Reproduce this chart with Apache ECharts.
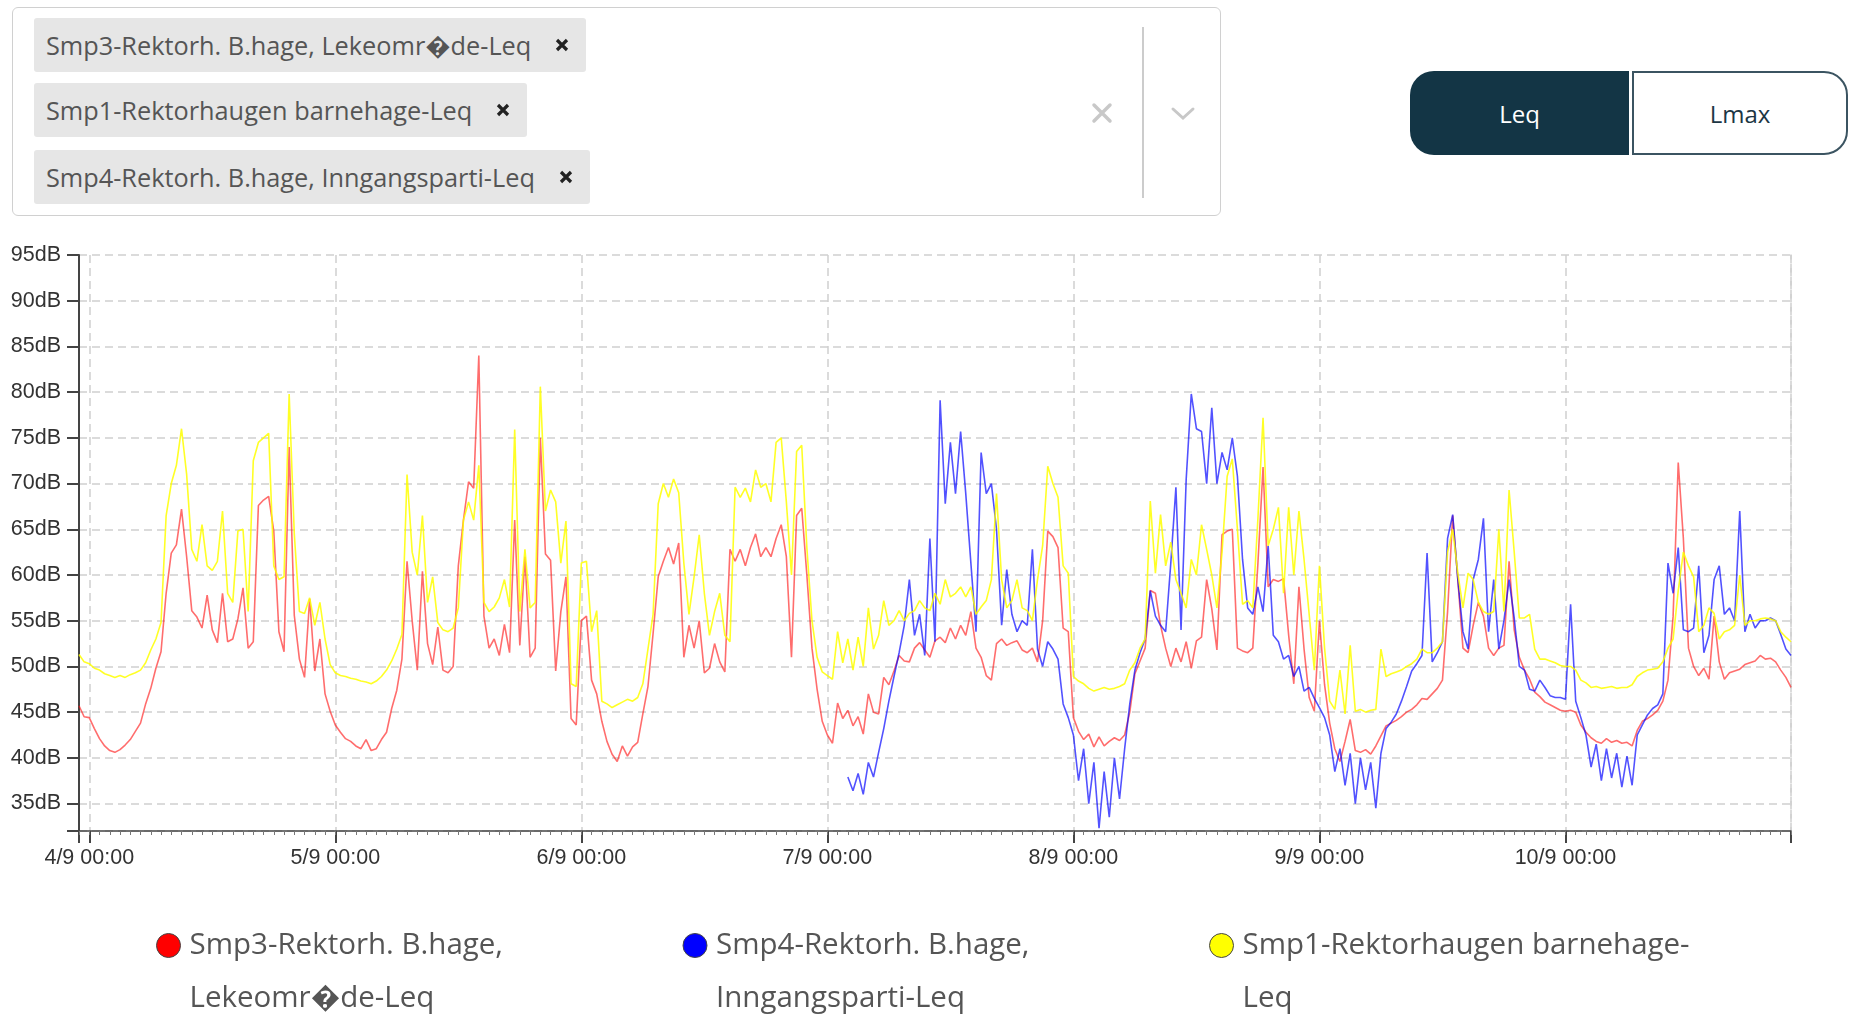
<!DOCTYPE html>
<html>
<head>
<meta charset="utf-8">
<title>Leq</title>
<script src="https://cdn.jsdelivr.net/npm/echarts@6.0.0/dist/echarts.min.js"></script>
<style>
  html, body { margin: 0; padding: 0; background: #fff; }
  #page { position: relative; width: 1850px; height: 1015px; overflow: hidden; font-family: 'Open Sans', sans-serif; }
  #chart { position: absolute; left: 0; top: 0; width: 1850px; height: 1015px; }
  .select { position: absolute; left: 12px; top: 7px; width: 1209px; height: 209px; border: 1px solid #d0d0d0; border-radius: 6px; box-sizing: border-box; background: #fff; z-index: 2; }
  .tag { position: absolute; left: 21px; height: 54px; background: #e6e6e6; border-radius: 3px; display: flex; align-items: center; padding: 0 17px 0 12px; font-size: 25.3px; color: #555; white-space: nowrap; box-sizing: border-box; }
  .tag svg { margin-left: 24px; }
  .sep { position: absolute; left: 1129px; top: 19px; width: 2px; height: 171px; background: #ccc; }
  .clear { position: absolute; left: 1078px; top: 94px; }
  .chev { position: absolute; left: 1157px; top: 98px; }
  .btn { position: absolute; top: 71px; height: 84px; display: flex; align-items: center; justify-content: center; font-size: 24px; box-sizing: border-box; z-index: 2; }
  .btn.on { left: 1410px; width: 219px; background: #133545; color: #fff; border-radius: 24px 0 0 24px; }
  .btn.off { left: 1632px; width: 216px; background: #fff; color: #1c3644; border: 2px solid #3b5461; border-radius: 0 24px 24px 0; }
</style>
</head>
<body>
<div id="page">
  <div id="chart"></div>
  <div class="select" id="select">
    <div class="sep"></div>
    <svg class="clear" width="22" height="22" viewBox="0 0 22 22"><path d="M3 3 L19 19 M19 3 L3 19" stroke="#c8c8c8" stroke-width="3.5" stroke-linecap="round"/></svg>
    <svg class="chev" width="26" height="16" viewBox="0 0 26 16"><path d="M3 3 L13 12 L23 3" stroke="#c8c8c8" stroke-width="3" fill="none" stroke-linecap="round"/></svg>
  </div>
  <div class="btn on">Leq</div>
  <div class="btn off">Lmax</div>
</div>
<script>
// series names and legend text (legend wraps on two lines)
const seriesNames = [
  'Smp3-Rektorh. B.hage, Lekeomr\uFFFDde-Leq',
  'Smp4-Rektorh. B.hage, Inngangsparti-Leq',
  'Smp1-Rektorhaugen barnehage-Leq'
];
const legendLines = [
  'Smp3-Rektorh. B.hage,\nLekeomr\uFFFDde-Leq',
  'Smp4-Rektorh. B.hage,\nInngangsparti-Leq',
  'Smp1-Rektorhaugen barnehage-\nLeq'
];
// order of the tags in the selector
const tagNames = [seriesNames[0], seriesNames[2], seriesNames[1]];
const tagTops = [10, 75, 142];

const seriesColors = ['#ff0000', '#0000ff', '#ffff00'];
const lineColors = ['rgba(255,20,20,0.62)', 'rgba(0,0,255,0.68)', 'rgba(255,255,0,0.85)'];

const axisStart = '2023-09-03 23:00';
const axisEnd = '2023-09-10 22:00';
const dayTicks = ['2023-09-04 00:00', '2023-09-05 00:00', '2023-09-06 00:00', '2023-09-07 00:00',
  '2023-09-08 00:00', '2023-09-09 00:00', '2023-09-10 00:00'];
const yMin = 32;
const yMax = 95;

// half-hour Leq values (dB)
const stepMinutes = 30;

const smp3Start = '2023-09-03 23:00';
const smp3Leq = [
  45.7, 44.5,
  // 4/9
  44.4, 43.2, 42.1, 41.3, 40.8, 40.6, 40.9, 41.4, 42.0, 42.9, 43.8, 45.9, 47.6, 49.8, 51.6, 58.0,
  62.4, 63.3, 67.2, 62.0, 56.1, 55.4, 54.2, 57.8, 54.0, 52.6, 58.0, 52.7, 53.0, 55.2, 58.6, 52.0,
  52.7, 67.6, 68.2, 68.6, 64.8, 53.8, 51.6, 74.0, 55.6, 50.8, 48.8, 57.4, 49.5, 53.0, 47.0, 45.1,
  // 5/9
  43.6, 42.8, 42.1, 41.8, 41.3, 41.0, 42.0, 40.8, 41.0, 42.0, 42.8, 45.4, 47.4, 50.8, 61.5, 55.0,
  49.6, 60.4, 52.5, 50.2, 54.3, 49.6, 49.3, 50.0, 61.0, 66.0, 70.2, 69.5, 84.0, 55.5, 52.0, 53.0,
  51.2, 54.6, 51.5, 66.0, 52.3, 62.0, 51.0, 52.0, 75.0, 62.3, 61.6, 49.5, 56.0, 59.8, 44.3, 43.6,
  // 6/9
  55.0, 55.5, 48.5, 47.0, 44.0, 41.8, 40.4, 39.6, 41.3, 40.2, 41.2, 41.7, 44.8, 47.8, 53.6, 59.8,
  61.5, 63.0, 61.2, 63.5, 51.0, 54.5, 52.0, 55.0, 49.3, 49.8, 52.5, 50.5, 49.4, 62.8, 61.5, 62.8,
  61.0, 63.0, 64.5, 62.0, 63.0, 62.0, 64.0, 65.5, 62.0, 51.0, 66.5, 67.3, 60.0, 52.0, 47.5, 44.0,
  // 7/9
  42.5, 41.6, 46.0, 44.3, 45.2, 43.5, 44.5, 42.6, 47.0, 45.0, 44.8, 48.8, 48.0, 49.5, 51.2, 50.6,
  50.5, 52.0, 52.6, 51.8, 51.0, 52.8, 53.2, 52.6, 54.2, 53.0, 54.5, 53.4, 56.0, 52.0, 51.0, 49.0,
  48.5, 52.5, 53.0, 52.3, 52.6, 52.8, 51.8, 51.5, 52.0, 50.5, 55.0, 64.8, 64.2, 63.0, 54.2, 53.8,
  // 8/9
  44.4, 42.9, 42.0, 42.6, 41.2, 42.3, 41.3, 41.8, 42.2, 41.9, 42.5, 45.0, 49.2, 50.6, 52.0, 58.3,
  58.0, 54.5, 52.0, 50.0, 52.0, 50.5, 52.7, 49.8, 52.8, 53.2, 59.5, 56.3, 51.8, 64.4, 64.8, 65.0,
  52.0, 51.7, 51.5, 52.0, 61.3, 71.8, 58.7, 59.5, 59.3, 59.6, 53.4, 48.1, 58.7, 51.9, 46.6, 45.1,
  // 9/9
  55.0, 48.0, 43.8, 41.0, 39.6, 41.8, 44.2, 40.8, 40.6, 40.9, 40.4, 41.3, 42.4, 43.5, 43.8, 44.1,
  44.5, 45.0, 45.3, 45.8, 46.5, 46.4, 47.0, 47.6, 48.5, 56.0, 66.5, 59.5, 52.0, 51.5, 54.5, 57.0,
  55.5, 52.0, 51.2, 52.0, 52.3, 61.5, 54.0, 51.0, 49.6, 48.6, 47.2, 46.7, 46.1, 45.8, 45.5, 45.2,
  // 10/9
  45.1, 45.2, 45.0, 43.6, 42.8, 42.2, 41.8, 41.6, 42.1, 41.7, 41.9, 41.6, 41.7, 41.3, 43.0, 44.0,
  44.3, 44.7, 45.2, 46.2, 48.5, 55.5, 72.3, 64.0, 52.0, 50.0, 49.0, 49.8, 48.6, 55.5, 50.5, 48.6,
  49.3, 49.5, 49.7, 50.2, 50.4, 50.6, 51.2, 50.8, 50.9, 50.5, 49.6, 48.8, 47.7
];

const smp4Start = '2023-09-07 02:00';
const smp4Leq = [
  // 7/9 from 02:00
  37.9, 36.4, 38.3, 36.0, 39.5, 37.9, 40.6, 43.2, 46.2, 48.9, 51.5, 54.5, 59.5, 53.4, 55.7, 51.2,
  64.0, 52.7, 79.1, 67.8, 74.5, 68.9, 75.7, 68.9, 61.3, 53.8, 73.4, 68.9, 70.0, 65.0, 54.5, 60.6,
  55.7, 53.8, 55.0, 54.5, 62.8, 51.9, 50.0, 52.7, 51.9, 50.8, 45.9, 44.4,
  // 8/9
  42.5, 37.5, 41.0, 35.0, 39.5, 32.3, 38.5, 33.5, 40.0, 35.5, 41.0, 45.9, 49.6, 51.5, 53.0, 58.3,
  55.5, 54.5, 53.8, 61.3, 69.6, 54.0, 70.4, 79.8, 76.0, 75.7, 70.0, 78.3, 70.0, 73.4, 71.5, 75.0,
  70.8, 61.7, 56.4, 55.7, 58.7, 56.0, 63.2, 53.4, 52.7, 50.8, 51.2, 48.9, 50.0, 47.3, 47.7, 46.5,
  // 9/9
  45.5, 44.4, 42.5, 38.5, 41.0, 37.0, 40.5, 35.0, 40.0, 36.5, 39.5, 34.5, 40.5, 43.2, 43.9, 44.8,
  46.2, 47.8, 49.5, 50.3, 51.2, 62.4, 50.5, 51.5, 52.7, 64.0, 66.6, 59.5, 53.8, 51.9, 59.5, 61.7,
  66.2, 53.8, 59.5, 51.9, 55.0, 59.5, 55.3, 50.0, 49.6, 47.5, 47.3, 48.5, 47.7, 46.8, 46.6, 46.6,
  // 10/9
  46.4, 56.8, 46.2, 44.4, 42.5, 39.0, 41.5, 37.5, 41.0, 37.8, 40.5, 36.8, 40.2, 37.0, 42.5, 43.6,
  44.7, 45.4, 45.8, 47.0, 61.3, 58.0, 63.0, 54.0, 53.8, 54.2, 61.0, 51.5, 53.4, 59.5, 61.0, 55.7,
  56.4, 55.0, 67.0, 53.8, 55.7, 54.2, 55.0, 55.0, 55.3, 55.0, 53.5, 51.9, 51.2
];

const smp1Start = '2023-09-03 23:00';
const smp1Leq = [
  51.3, 50.5,
  // 4/9
  50.3, 49.8, 49.6, 49.2, 49.0, 48.8, 49.0, 48.8, 49.1, 49.3, 49.6, 50.4, 51.8, 53.0, 54.8, 66.5,
  70.0, 72.0, 76.0, 71.0, 62.8, 61.5, 65.5, 61.0, 60.5, 61.5, 67.0, 58.0, 57.0, 64.8, 65.0, 56.0,
  72.5, 74.5, 75.0, 75.5, 61.0, 59.5, 59.8, 79.8, 64.5, 56.0, 55.8, 57.5, 54.5, 57.0, 53.0, 50.2,
  // 5/9
  49.3, 49.0, 48.9, 48.7, 48.6, 48.4, 48.3, 48.1, 48.4, 48.9, 49.6, 50.6, 51.9, 53.5, 71.0, 62.5,
  60.0, 66.5, 57.0, 59.8, 54.8, 54.0, 53.8, 54.2, 56.4, 66.0, 68.0, 66.0, 72.0, 57.0, 56.0, 56.5,
  57.5, 59.5, 56.5, 75.9, 56.0, 62.8, 56.4, 57.0, 80.6, 67.0, 69.3, 68.0, 61.3, 65.9, 48.1, 47.8,
  // 6/9
  61.3, 61.5, 53.8, 56.1, 46.2, 45.9, 45.5, 45.8, 46.1, 46.4, 46.2, 46.6, 48.1, 51.9, 55.7, 67.8,
  70.0, 68.5, 70.5, 69.0, 61.3, 55.7, 59.8, 64.4, 58.0, 53.4, 56.0, 58.0, 53.4, 52.7, 69.6, 68.5,
  69.5, 68.0, 71.5, 69.6, 70.0, 68.0, 74.5, 75.0, 68.0, 60.0, 73.5, 74.2, 63.0, 55.0, 51.0, 49.4,
  // 7/9
  49.0, 48.6, 53.8, 50.4, 53.0, 49.6, 53.2, 50.0, 56.4, 51.9, 53.4, 57.2, 54.5, 55.0, 56.1, 55.0,
  55.8, 56.1, 57.2, 56.4, 56.1, 58.0, 56.8, 59.5, 57.6, 58.0, 58.7, 57.6, 58.7, 55.7, 56.5, 57.2,
  59.5, 68.9, 59.5, 56.4, 57.2, 59.5, 56.4, 56.1, 55.0, 59.5, 63.2, 71.9, 70.0, 68.5, 61.0, 60.2,
  // 8/9
  48.9, 48.4, 48.1, 47.6, 47.3, 47.5, 47.7, 47.5, 47.6, 47.8, 48.1, 49.6, 50.4, 52.0, 53.0, 68.1,
  60.2, 66.6, 61.0, 63.6, 59.5, 58.0, 56.4, 61.7, 60.0, 65.5, 62.8, 60.0, 56.4, 62.5, 70.8, 72.7,
  65.0, 56.8, 57.2, 56.4, 66.2, 77.2, 63.2, 65.0, 67.4, 58.0, 67.4, 60.0, 67.0, 61.7, 55.7, 49.6,
  // 9/9
  61.0, 52.0, 46.2, 45.3, 49.6, 44.8, 52.3, 45.1, 45.3, 45.0, 45.2, 45.3, 51.9, 48.9, 49.2, 49.4,
  49.6, 50.0, 50.3, 50.8, 51.9, 51.5, 51.5, 52.0, 52.7, 62.5, 65.0, 60.2, 56.4, 60.2, 59.5, 57.0,
  56.0, 55.7, 56.0, 65.0, 56.0, 69.3, 62.5, 55.3, 55.3, 55.7, 51.9, 50.8, 50.8, 50.6, 50.4, 50.1,
  // 10/9
  50.0, 50.0, 49.6, 48.5, 48.2, 47.7, 47.8, 47.6, 47.7, 47.8, 47.6, 47.7, 47.7, 48.0, 48.9, 49.3,
  49.6, 49.7, 49.8, 50.5, 52.0, 53.0, 58.3, 62.5, 61.0, 59.8, 53.8, 54.5, 56.4, 55.8, 53.0, 53.8,
  54.0, 54.5, 60.0, 54.5, 55.0, 55.0, 55.2, 55.3, 55.2, 55.0, 53.8, 53.2, 52.7
];

const toMs = (s) => new Date(s.replace(' ', 'T') + ':00').getTime();
const pad = (n) => (n < 10 ? '0' + n : '' + n);

const buildSeries = (start, values) => {
  const t0 = toMs(start);
  return values.map((v, i) => [t0 + i * stepMinutes * 60000, v]);
};

// selector tags
const selectEl = document.getElementById('select');
tagNames.forEach((name, i) => {
  const tag = document.createElement('div');
  tag.className = 'tag';
  tag.style.top = tagTops[i] + 'px';
  tag.textContent = name;
  tag.insertAdjacentHTML('beforeend',
    '<svg width="14" height="14" viewBox="0 0 14 14"><path d="M2 2 L12 12 M12 2 L2 12" stroke="#222" stroke-width="3.2"/></svg>');
  selectEl.appendChild(tag);
});

const chart = echarts.init(document.getElementById('chart'));

const startMs = toMs(axisStart);
const endMs = toMs(axisEnd);
const dayMs = dayTicks.map(toMs);
const axisColor = '#444';
const textColor = '#333';
const gridLine = { show: true, lineStyle: { color: '#cfcfcf', width: 1.5, type: [8, 5] } };

const series = [smp3Leq, smp4Leq, smp1Leq].map((vals, i) => ({
  name: seriesNames[i],
  type: 'line',
  data: buildSeries([smp3Start, smp4Start, smp1Start][i], vals),
  symbol: 'none',
  showSymbol: false,
  itemStyle: { color: seriesColors[i] },
  lineStyle: { width: 1.6, color: lineColors[i] },
  emphasis: { disabled: true },
  animation: false
}));

const option = {
  animation: false,
  grid: { left: 79, right: 59, top: 255, bottom: 184 },
  legend: {
    data: seriesNames,
    left: 151,
    top: 861,
    icon: 'circle',
    itemWidth: 32,
    itemHeight: 24,
    itemGap: 23,
    itemStyle: { borderColor: '#444', borderWidth: 1 },
    // leading empty line keeps the first text line level with the dot
    formatter: (name) => '\n' + legendLines[seriesNames.indexOf(name)],
    textStyle: {
      fontFamily: 'Open Sans',
      fontSize: 29.5,
      lineHeight: 53,
      color: '#555',
      width: 470
    }
  },
  xAxis: [
    {
      // time in ms on a value axis, ticks at midnight plus both ends
      type: 'value',
      position: 'bottom',
      min: startMs,
      max: endMs,
      axisLine: { onZero: false, lineStyle: { color: axisColor, width: 1.5 } },
      axisTick: { length: 12, lineStyle: { color: axisColor, width: 2 }, customValues: [startMs].concat(dayMs, [endMs]) },
      axisLabel: {
        customValues: dayMs,
        fontFamily: 'Liberation Sans',
        fontSize: 21.5,
        color: textColor,
        margin: 16,
        formatter: (v) => {
          const d = new Date(v);
          return d.getDate() + '/' + (d.getMonth() + 1) + ' ' + pad(d.getHours()) + ':' + pad(d.getMinutes());
        }
      },
      splitLine: gridLine
    },
    {
      // hourly small ticks along the time axis
      type: 'value',
      position: 'bottom',
      min: startMs,
      max: endMs,
      interval: 3600000,
      axisLine: { show: false, onZero: false },
      axisTick: { show: true, length: 4, lineStyle: { color: '#777', width: 1 } },
      axisLabel: { show: false },
      splitLine: { show: false }
    }
  ],
  yAxis: [
    {
      type: 'value',
      position: 'left',
      min: yMin,
      max: yMax,
      minInterval: 5,
      maxInterval: 5,
      splitNumber: 13,
      axisLine: { show: true, onZero: false, lineStyle: { color: axisColor, width: 2 } },
      axisTick: { show: true, length: 12, lineStyle: { color: axisColor, width: 2 } },
      axisLabel: {
        fontFamily: 'Liberation Sans',
        fontSize: 21.5,
        color: textColor,
        margin: 18,
        formatter: (v) => (v % 5 === 0 ? v + 'dB' : '')
      },
      splitLine: gridLine
    },
    {
      type: 'value',
      position: 'right',
      min: yMin,
      max: yMax,
      axisLine: { show: true, onZero: false, lineStyle: { color: '#cfcfcf', width: 1.5, type: [8, 5] } },
      axisTick: { show: false },
      axisLabel: { show: false },
      splitLine: { show: false }
    }
  ],
  series: series
};

chart.setOption(option);
window.addEventListener('resize', () => chart.resize());
</script>
</body>
</html>
